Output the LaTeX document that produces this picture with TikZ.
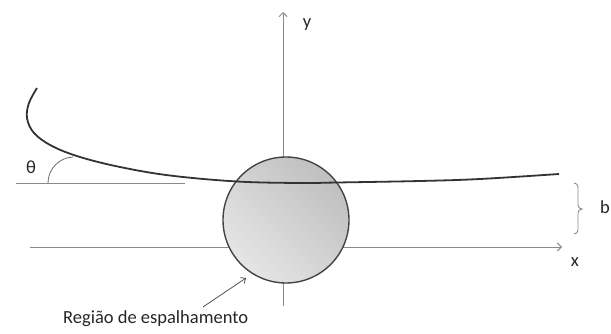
\documentclass[tikz,border=0pt]{standalone}
\usepackage{fontspec}
\setmainfont{Carlito}
\usetikzlibrary{arrows.meta,decorations.pathreplacing}
\definecolor{axisgray}{HTML}{8A8A8A}
\definecolor{curvedark}{HTML}{333333}
\definecolor{circedge}{HTML}{444444}
\tikzset{
  axis/.style={draw=axisgray, line width=0.9pt, -{Straight Barb[length=4pt,width=8pt]}},
  traj/.style={draw=curvedark, line width=1.8pt},
  lbl/.style={font=\fontsize{18.5}{20}\selectfont, text=black!85, inner sep=0pt},
}
\begin{document}
\begin{tikzpicture}[x=1pt,y=-1pt]
\useasboundingbox (0,0) rectangle (611,334);
% axes
\coordinate (xs) at (30,247);
\coordinate (xe) at (562,247);
\coordinate (ys) at (283,306);
\coordinate (ye) at (283,12);
\draw[axis] (xs) -- (xe);
\draw[axis] (ys) -- (ye);
% scattering region
\node[circle, minimum size=126pt, inner sep=0pt, draw=circedge, line width=1.4pt,
      left color=black!25, right color=black!10, shading angle=-45] (c) at (286,220) {};
% reference line for theta
\coordinate (rs) at (16,183);
\coordinate (re) at (185,183);
\draw[axisgray, line width=0.9pt] (rs) -- (re);
% theta arc
\draw[axisgray!80!black, line width=0.8pt] (48,183) arc[start angle=180, end angle=268, radius=26];
\node[lbl] (th) at (31,167) {θ};
% trajectory
\draw[traj] plot[smooth, tension=0.6] coordinates {
 (37,88) (29,103) (27,118) (34,133) (52,146) (80,157) (120,167) (170,175.5)
 (237,181.5) (300,183) (337,182.5) (420,181) (480,179) (559,174)};
% brace
\draw[axisgray, line width=0.9pt] (574,183) to[out=0,in=90] (578,187) -- (578,205)
  to[out=-90,in=180] (582,209) to[out=180,in=90] (578,213) -- (578,230) to[out=-90,in=0] (574,234);
\node[lbl, anchor=west] (b) at (600,207) {b};
% axis labels
\node[lbl] (ylab) at (307,25) {y};
\node[lbl] (xlab) at (575,262) {x};
% label for region
\node[lbl, anchor=base west] (reg) at (63,323) {Região de espalhamento};
\coordinate (rtip) at (246,278);
\draw[black!75, line width=0.7pt, -{Straight Barb[length=4pt,width=7pt]}] (203,307) -- (rtip);
\end{tikzpicture}
\end{document}
